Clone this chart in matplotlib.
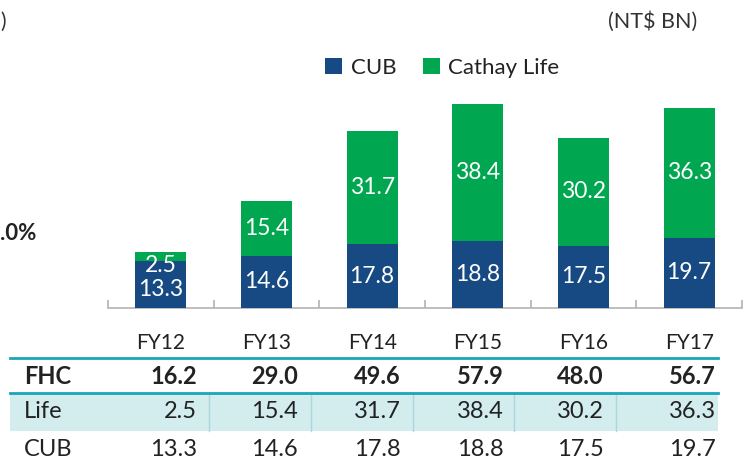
import matplotlib
matplotlib.use('Agg')
import matplotlib.pyplot as plt
import numpy as np

plt.rcParams['font.family'] = ['Lato', 'DejaVu Sans']

# data (NT$ BN)
years = ['FY12', 'FY13', 'FY14', 'FY15', 'FY16', 'FY17']
cub = [13.3, 14.6, 17.8, 18.8, 17.5, 19.7]
life = [2.5, 15.4, 31.7, 38.4, 30.2, 36.3]
fhc = [16.2, 29.0, 49.6, 57.9, 48.0, 56.7]

blue = '#174a82'
green = '#00a650'
teal = '#19a6b6'
light = '#d3ecee'
W, H = 750, 466

fig = plt.figure(figsize=(W / 100, H / 100), dpi=100)

# overlay axes in pixel units for table and loose text
ov = fig.add_axes([0, 0, 1, 1])
ov.set_xlim(0, W)
ov.set_ylim(H, 0)
ov.axis('off')

# chart axes
x0, x1, base, top = 108, 742, 308, 60
ax = fig.add_axes([x0 / W, (H - base) / H, (x1 - x0) / W, (base - top) / H])
ax.set_xlim(-0.5, len(years) - 0.5)
ax.set_ylim(0, (base - top) / 3.57)

x = np.arange(len(years))
bw = 0.48
ax.bar(x, cub, bw, color=blue, label='CUB', zorder=3)
ax.bar(x, life, bw, bottom=cub, color=green, label='Cathay Life', zorder=3)

lab = dict(ha='center', va='center', color='white', fontsize=16.5, zorder=4)
for i in range(len(years)):
    if life[i] < 5:
        # small segment: push both labels down a little
        ax.annotate(f'{life[i]:.1f}', (x[i], cub[i] + life[i] / 2), xytext=(0, -7),
                    textcoords='offset points', **lab)
        ax.annotate(f'{cub[i]:.1f}', (x[i], cub[i] / 2), xytext=(0, -4),
                    textcoords='offset points', **lab)
    else:
        ax.text(x[i], cub[i] + life[i] / 2, f'{life[i]:.1f}', **lab)
        ax.text(x[i], cub[i] / 2, f'{cub[i]:.1f}', **lab)

for s in ['top', 'right', 'left']:
    ax.spines[s].set_visible(False)
ax.spines['bottom'].set_color('#b3b3b3')
ax.spines['bottom'].set_linewidth(1.2)
ax.set_yticks([])
ax.set_xticks(x)
ax.set_xticklabels(years, fontsize=15, color='#222222')
ax.tick_params(axis='x', which='major', length=0, pad=18)
ax.set_xticks(np.arange(-0.5, len(years)), minor=True)
ax.tick_params(axis='x', which='minor', length=6, direction='in', color='#b3b3b3', width=1.2)
ax.patch.set_alpha(0)

leg = fig.legend(loc='center left', bbox_to_anchor=(325 / W, 1 - 68 / H), ncol=2, frameon=False,
                 fontsize=16, handlelength=0.75, handleheight=0.75, handletextpad=0.4,
                 columnspacing=1.2, borderaxespad=0, borderpad=0)
for t in leg.get_texts():
    t.set_color('#222222')

# loose text from the slide
ov.text(608, 22, '(NT$ BN)', fontsize=15.5, color='#333333', va='center')
ov.text(0, 22, ')', fontsize=15, color='#333333', va='center')
ov.text(0, 233, '.0%', fontsize=16, fontweight='bold', color='#222222', va='center')

# table
tl, tr = 10, 718
right_edges = [197, 298, 401, 504, 604, 716]
seps = [209, 311, 413, 514, 616]
ov.add_patch(plt.Rectangle((tl, 393), tr - tl, 38, color=light, lw=0, zorder=1))
for sx in seps:
    ov.plot([sx, sx], [393, 431], color='#a9d9de', lw=1, zorder=2)
ov.plot([tl, tr], [358, 358], color=teal, lw=2, zorder=3)
ov.plot([tl, tr], [393, 393], color=teal, lw=2, zorder=3)

rows = [('FHC', fhc, 377, 'bold'), ('Life', life, 412, 'normal'), ('CUB', cub, 450, 'normal')]
for name, vals, yy, fw in rows:
    ov.text(24, yy, name, fontsize=17, fontweight=fw, color='#222222', va='center', zorder=4)
    for re, v in zip(right_edges, vals):
        ov.text(re, yy, f'{v:.1f}', fontsize=17, fontweight=fw, color='#222222',
                ha='right', va='center', zorder=4)

fig.savefig('out.png', dpi=100)
